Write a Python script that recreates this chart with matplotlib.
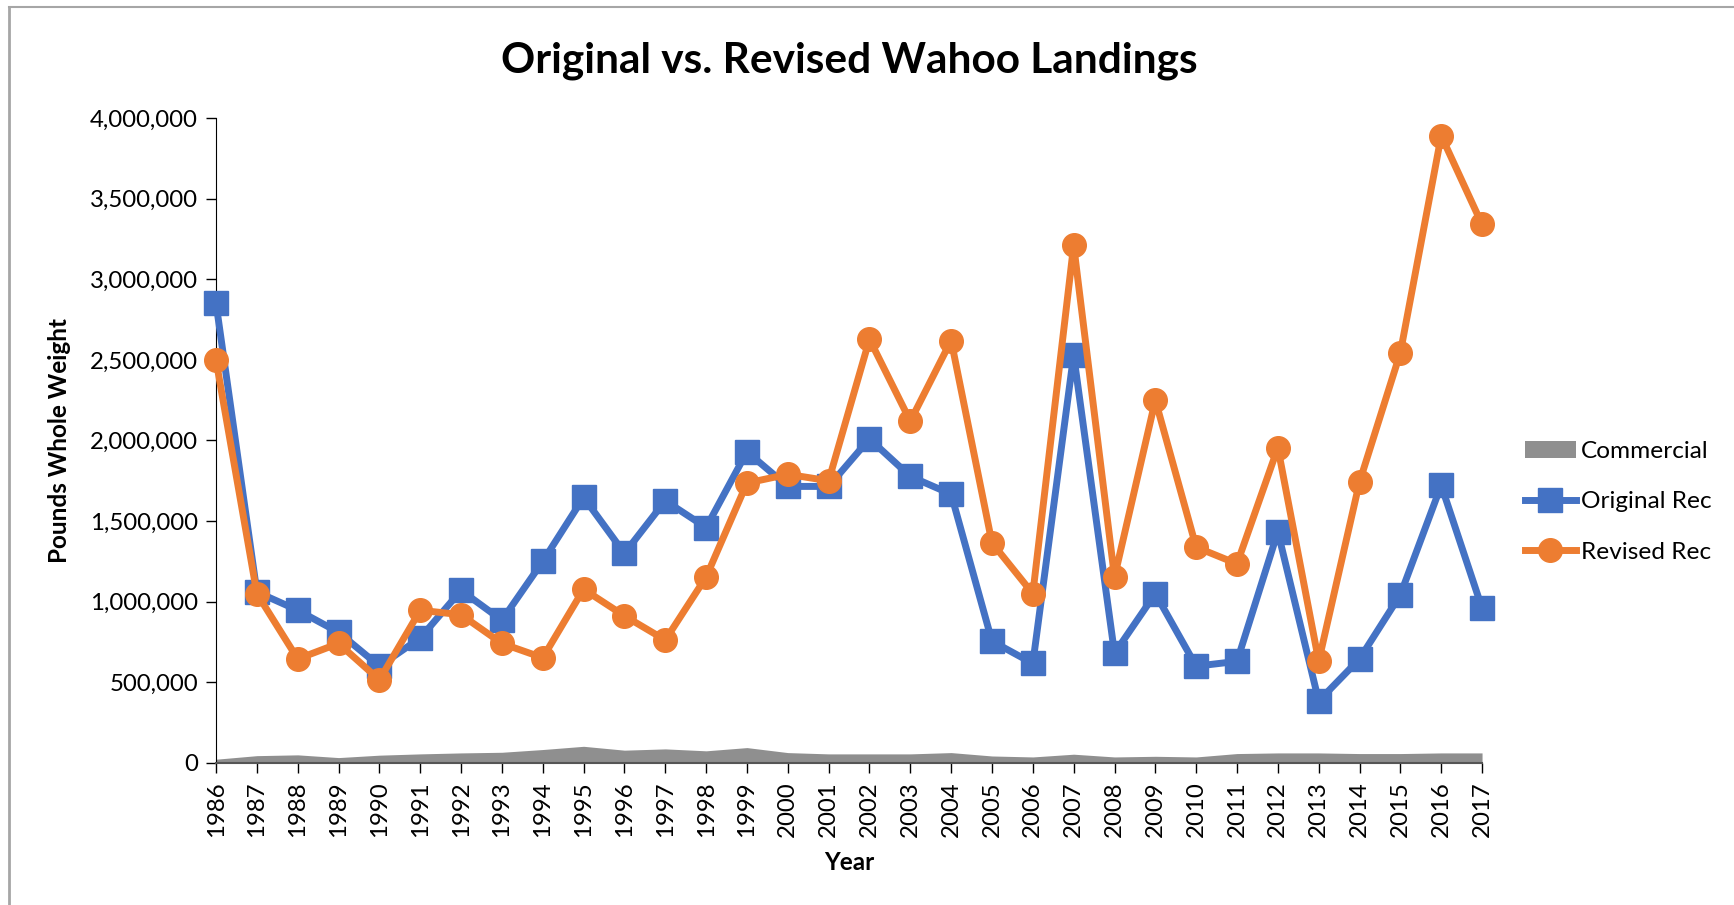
import numpy as np
import matplotlib.pyplot as plt
from matplotlib.lines import Line2D
from matplotlib.ticker import FuncFormatter

plt.rcParams['font.family'] = ['Lato', 'DejaVu Sans']

years = list(range(1986, 2018))

commercial = [23000, 45000, 50000, 33000, 48000, 56000, 62000, 66000, 83000, 103000,
              79000, 87000, 75000, 95000, 64000, 56000, 56000, 56000, 64000, 43000,
              37000, 54000, 37000, 41000, 37000, 58000, 62000, 62000, 58000, 58000,
              62000, 62000]

original_rec = [2850000, 1060000, 947000, 810000, 600000, 775000, 1070000, 885000, 1250000, 1647000,
                1300000, 1626000, 1460000, 1930000, 1715000, 1715000, 2010000, 1777000, 1667000, 755000,
                617000, 2530000, 680000, 1050000, 600000, 630000, 1434000, 384000, 645000, 1043000,
                1722000, 960000]

revised_rec = [2497000, 1050000, 645000, 741000, 515000, 947000, 919000, 741000, 652000, 1077000,
               912000, 762000, 1153000, 1736000, 1790000, 1750000, 2628000, 2120000, 2620000, 1365000,
               1050000, 3210000, 1153000, 2250000, 1338000, 1235000, 1955000, 631000, 1743000, 2545000,
               3890000, 3340000]

BLUE = "#4472C4"
ORANGE = "#ED7D31"
GRAY = "#8F8F8F"

fig = plt.figure(figsize=(17.34, 9.05), dpi=100)
ax = fig.add_axes([0.1246, 0.157, 0.7301, 0.7126])

ax.fill_between(years, commercial, 0, color=GRAY, lw=0, label="Commercial", zorder=2)
ax.plot(years, original_rec, color=BLUE, lw=5, marker="s", ms=17, label="Original Rec",
        zorder=3, clip_on=False)
ax.plot(years, revised_rec, color=ORANGE, lw=5, marker="o", ms=17, label="Revised Rec",
        zorder=4, clip_on=False)

ax.set_xlim(1986, 2017)
ax.set_ylim(0, 4000000)
ax.set_yticks(np.arange(0, 4000001, 500000))
ax.yaxis.set_major_formatter(FuncFormatter(lambda v, p: f"{int(v):,}"))
ax.set_xticks(years)
ax.set_xticklabels([str(y) for y in years], rotation=90)
ax.tick_params(axis="both", labelsize=17.3, length=7, width=1, color="black", pad=6)

for s in ["top", "right"]:
    ax.spines[s].set_visible(False)
ax.spines["left"].set_color("black")
ax.spines["bottom"].set_color("#555555")
ax.spines["bottom"].set_linewidth(1.5)

ax.set_xlabel("Year", fontsize=17.5, fontweight="bold", labelpad=10)
ax.set_ylabel("Pounds Whole Weight", fontsize=17.5, fontweight="bold", labelpad=14)
ax.set_title("Original vs. Revised Wahoo Landings", fontsize=30.5, fontweight="bold", pad=33)

ax.legend(loc="center left", bbox_to_anchor=(1.024, 0.405), frameon=False, fontsize=17.6,
          borderpad=0, handlelength=2.1, handletextpad=0.2, labelspacing=1.2)

# chart border
fig.add_artist(Line2D([0.005, 0.005], [0, 0.992], transform=fig.transFigure, color="#A6A6A6", lw=2))
fig.add_artist(Line2D([0.005, 1], [0.992, 0.992], transform=fig.transFigure, color="#A6A6A6", lw=1.5))

plt.savefig("out.png", dpi=100)
